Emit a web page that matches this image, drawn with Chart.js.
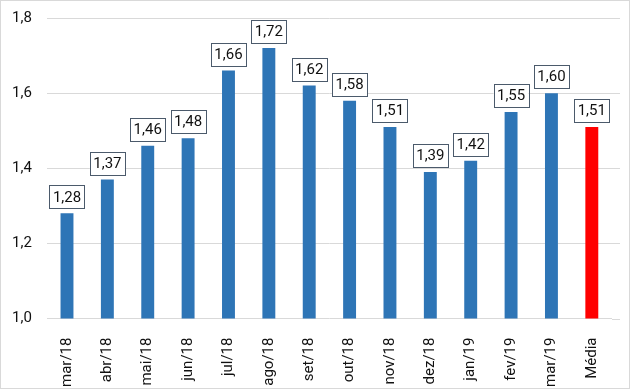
<!DOCTYPE html>
<html>
<head>
<meta charset="utf-8">
<script src="https://cdn.jsdelivr.net/npm/chart.js@4"></script>
<style>
html,body{margin:0;padding:0;background:#fff;}
#wrap{width:630px;height:389px;position:relative;}
</style>
</head>
<body>
<div id="wrap"><canvas id="c" width="630" height="389"></canvas></div>
<script>
const categories = ["mar/18","abr/18","mai/18","jun/18","jul/18","ago/18","set/18","out/18","nov/18","dez/18","jan/19","fev/19","mar/19","Média"];
const values = [1.28,1.37,1.46,1.48,1.66,1.72,1.62,1.58,1.51,1.39,1.42,1.55,1.60,1.51];
const barColors = ["#2E75B6","#2E75B6","#2E75B6","#2E75B6","#2E75B6","#2E75B6","#2E75B6","#2E75B6","#2E75B6","#2E75B6","#2E75B6","#2E75B6","#2E75B6","#FF0000"];
const yTicks = [1.0,1.2,1.4,1.6,1.8];

const fmt = v => v.toFixed(2).replace('.', ',');

const frame = {
  id:'frame',
  beforeDraw(chart){
    const ctx = chart.ctx;
    ctx.save();
    ctx.fillStyle='#fff';
    ctx.fillRect(0,0,chart.width,chart.height);
    ctx.strokeStyle='#d9d9d9';
    ctx.lineWidth=1;
    ctx.strokeRect(0.5,0.5,chart.width-1,chart.height-1);
    ctx.restore();
  },
  beforeDatasetsDraw(chart){
    // extend horizontal gridlines a little past the plot area, as in the reference
    const ctx = chart.ctx, y = chart.scales.y, r = chart.chartArea.right;
    ctx.save();
    ctx.strokeStyle='#d9d9d9';
    ctx.lineWidth=1;
    yTicks.forEach(v=>{
      const py = Math.round(y.getPixelForValue(v))+0.5;
      ctx.beginPath(); ctx.moveTo(r,py); ctx.lineTo(r+8,py); ctx.stroke();
    });
    ctx.restore();
  }
};

const boxLabels = {
  id:'boxLabels',
  afterDatasetsDraw(chart){
    const ctx = chart.ctx;
    const meta = chart.getDatasetMeta(0);
    ctx.save();
    ctx.font = '15px Roboto';
    ctx.textAlign='center';
    ctx.textBaseline='middle';
    meta.data.forEach((bar,i)=>{
      const txt = fmt(values[i]);
      const w = 35, h = 23;
      const x = bar.x - w/2;
      const y = bar.y - 5 - h;
      ctx.fillStyle='#fff';
      ctx.fillRect(x,y,w,h);
      ctx.strokeStyle='#4b5a6b';
      ctx.lineWidth=1;
      ctx.strokeRect(Math.round(x)+0.5,Math.round(y)+0.5,w,h);
      ctx.fillStyle='#111';
      ctx.fillText(txt, bar.x, y + h/2 + 1);
    });
    ctx.restore();
  }
};

new Chart(document.getElementById('c'),{
  type:'bar',
  data:{labels:categories,datasets:[{data:values,backgroundColor:barColors,barPercentage:0.32,categoryPercentage:1}]},
  options:{
    responsive:false,
    animation:false,
    layout:{padding:{top:18,right:18,left:10,bottom:-9}},
    plugins:{legend:{display:false},tooltip:{enabled:false}},
    scales:{
      x:{
        grid:{display:false},
        border:{display:false},
        ticks:{maxRotation:90,minRotation:90,color:'#111',font:{family:'Roboto',size:15},padding:11}
      },
      y:{
        min:1.0,max:1.8,
        afterBuildTicks(axis){axis.ticks = yTicks.map(v=>({value:v}));},
        grid:{color:'#d9d9d9',drawTicks:true,tickLength:13,tickColor:'rgba(0,0,0,0)'},
        border:{display:false},
        ticks:{color:'#111',font:{family:'Roboto',size:15},padding:2,callback:v=>v.toFixed(1).replace('.',',')}
      }
    }
  },
  plugins:[frame,boxLabels]
});
</script>
</body>
</html>
